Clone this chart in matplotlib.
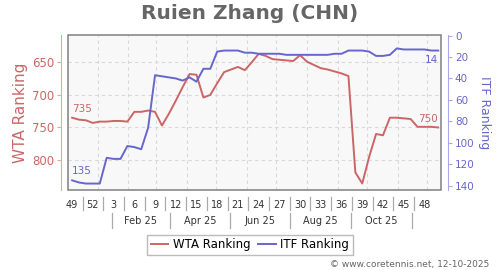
import datetime as dt
import matplotlib
matplotlib.use("Agg")
import matplotlib.pyplot as plt
from matplotlib.patches import Rectangle
from matplotlib.lines import Line2D
import matplotlib.transforms as mtransforms

# ---- data ----
weeks = [49, 50, 51, 52] + list(range(1, 51))
wta = [735, 738, 739, 743, 741, 741, 740, 740, 741, 726,
       726, 724, 726, 747, 729, 709, 688, 668, 669, 704,
       700, 682, 665, 661, 657, 662, 650, 637, 640, 645,
       646, 647, 648, 639, 649, 654, 659, 661, 664, 667,
       671, 819, 836, 795, 760, 762, 735, 735, 736, 737,
       749, 749, 749, 750]
itf = [135, 137, 138, 138, 138, 114, 115, 115, 103, 104,
       106, 86, 37, 38, 39, 40, 42, 39, 43, 31,
       31, 15, 14, 14, 14, 16, 16, 17, 17, 17,
       17, 18, 18, 18, 18, 18, 18, 18, 17, 17,
       14, 14, 14, 15, 19, 19, 18, 12, 13, 13,
       13, 13, 14, 14]
month_labels = ["Feb 25", "Apr 25", "Jun 25", "Aug 25", "Oct 25"]
start_date = dt.date(2024, 12, 6)

RED = "#cc6666"
BLUE = "#6666cc"

x = list(range(len(weeks)))

def date_idx(d):
    return (d - start_date).days / 7.0

fig = plt.figure(figsize=(5, 2.7), dpi=100)
ax = fig.add_axes([0.136, 0.2963, 0.746, 0.5741])
ax.set_facecolor("#f8f8f8")
ax2 = ax.twinx()

ax.plot(x, wta, color=RED, lw=1.4, zorder=3)
ax2.plot(x, itf, color=BLUE, lw=1.4, zorder=3)

ax.set_xlim(-0.6, 53.4)
ax.set_ylim(846, 608)
ax2.set_ylim(144, -0.5)

# frame
for a in (ax, ax2):
    for s in ("top", "bottom", "left", "right"):
        a.spines[s].set_visible(False)
ax.add_patch(Rectangle((0, 0), 1, 1, transform=ax.transAxes, fill=False,
                       edgecolor="#808080", lw=1.1, clip_on=False, zorder=5))
ax.spines["left"].set_visible(True)
ax.spines["left"].set_position(("outward", 5))
ax.spines["left"].set_color("#e0a8a8")
ax2.spines["right"].set_visible(True)
ax2.spines["right"].set_position(("outward", 5))
ax2.spines["right"].set_color("#a8a8e8")

# grid
ax.set_yticks([650, 700, 750, 800])
ax.yaxis.grid(True, color="#d8d8d8", ls=(0, (3, 3)), lw=0.8)
ax.set_axisbelow(True)
for m in range(1, 13):
    d = dt.date(2025, m, 1)
    ax.axvline(date_idx(d), color="#d8d8d8", ls=(0, (3, 3)), lw=0.8, zorder=1)

ax.tick_params(axis="y", colors="#e0a8a8", labelcolor=RED, labelsize=8.5,
               length=3, pad=2)
ax2.set_yticks(list(range(0, 141, 20)))
ax2.tick_params(axis="y", colors="#a8a8e8", labelcolor=BLUE, labelsize=7.5,
                length=3, pad=2)

ax.set_ylabel("WTA Ranking", color=RED, fontsize=11, labelpad=3)
ax2.set_ylabel("ITF Ranking", color=BLUE, fontsize=9, rotation=270, labelpad=12)

# x axis: week labels
tick_idx = list(range(0, len(weeks), 3))
ax.set_xticks(tick_idx)
ax.set_xticklabels([str(weeks[i]) for i in tick_idx], fontsize=7, color="#333333")
ax.tick_params(axis="x", length=0, pad=7)

trans = mtransforms.blended_transform_factory(ax.transData, ax.transAxes)
for k in range(len(tick_idx) - 1):
    xs = tick_idx[k] + 1.5
    ax.add_line(Line2D([xs, xs], [-0.045, -0.13], transform=trans, color="#aaaaaa",
                       lw=0.9, clip_on=False))

seps = [date_idx(dt.date(2025, m, 15)) for m in (1, 3, 5, 7, 9, 11)]
for s in seps:
    ax.add_line(Line2D([s, s], [-0.148, -0.245], transform=trans, color="#aaaaaa",
                       lw=0.9, clip_on=False))
for k, lab in enumerate(month_labels):
    xm = (seps[k] + seps[k + 1]) / 2
    ax.text(xm, -0.2, lab, transform=trans, ha="center", va="center",
            fontsize=7, color="#333333")

# end annotations
ax.text(x[0], wta[0] - 6, str(wta[0]), color=RED, fontsize=7.5, ha="left", va="bottom")
ax.text(x[-1], wta[-1] - 6, str(wta[-1]), color=RED, fontsize=7.5, ha="right", va="bottom")
ax2.text(x[0], itf[0] - 4, str(itf[0]), color=BLUE, fontsize=7.5, ha="left", va="bottom")
ax2.text(x[-1], itf[-1] + 4, str(itf[-1]), color=BLUE, fontsize=7.5, ha="right", va="top")

fig.text(0.5, 0.95, "Ruien Zhang (CHN)", ha="center", va="center",
         fontsize=14.5, fontweight="bold", color="#666666")

handles = [Line2D([], [], color=RED, lw=1.4), Line2D([], [], color=BLUE, lw=1.4)]
fig.legend(handles, ["WTA Ranking", "ITF Ranking"], loc="center",
           bbox_to_anchor=(0.5, 0.093), ncol=2, fontsize=8.5, frameon=True,
           fancybox=False, edgecolor="#aaaaaa", handlelength=1.5,
           handletextpad=0.4, columnspacing=0.6, borderpad=0.3)

fig.text(0.978, 0.022, "© www.coretennis.net, 12-10-2025", ha="right", va="center",
         fontsize=6.5, color="#666666")

fig.savefig("out.png", dpi=100)
